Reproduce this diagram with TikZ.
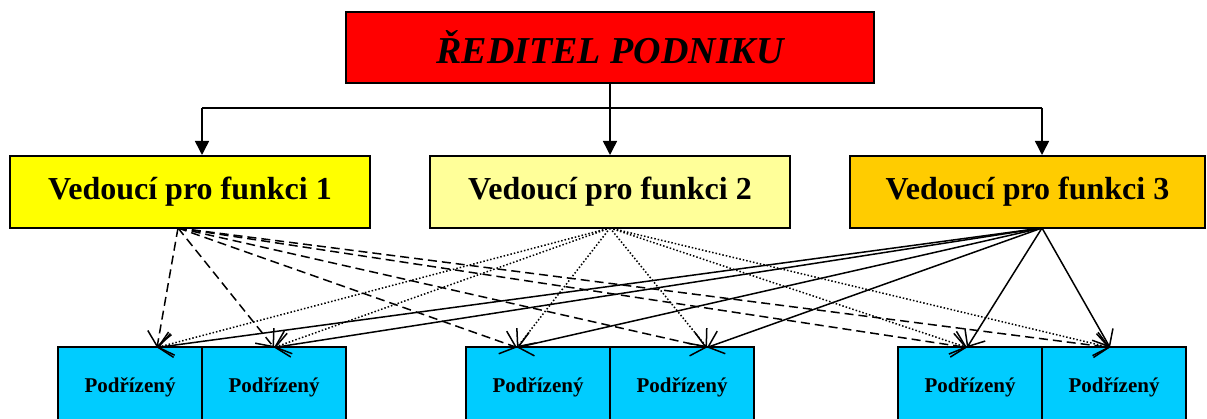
\documentclass[tikz,border=0pt]{standalone}
\usepackage{fontspec}
\setmainfont{Liberation Serif}
\usetikzlibrary{arrows.meta}
\definecolor{reditelred}{HTML}{FF0000}
\definecolor{ved1col}{HTML}{FFFF00}
\definecolor{ved2col}{HTML}{FFFF99}
\definecolor{ved3col}{HTML}{FFCC00}
\definecolor{podcol}{HTML}{00CCFF}
\newcommand{\podbox}[2]{\node[podrizeny] at (#1) (#2) {Podřízený}}

\begin{document}
\begin{tikzpicture}[x=1pt,y=-1pt,
	box/.style={draw,line width=2pt,inner sep=0pt,font=\bfseries},
	vedouci/.style={box,minimum height=72pt,font=\fontsize{32}{36}\selectfont\bfseries},
	podrizeny/.style={box,fill=podcol,minimum width=144pt,minimum height=80pt,font=\fontsize{21}{24}\selectfont\bfseries},
	f1/.style={->,dash pattern=on 9pt off 5pt},
	f2/.style={->,dash pattern=on 1.5pt off 2pt},
	f3/.style={->},
	>={Straight Barb[length=14pt,width=24pt]},
	line width=1.5pt]
				\useasboundingbox (0,0) rectangle (1207,419);
				\clip (0,0) rectangle (1207,419);

				\node[box,fill=reditelred,minimum width=528pt,minimum height=71pt,font=\fontsize{38}{40}\selectfont\bfseries\itshape] at (610,47.5) (reditel) {ŘEDITEL PODNIKU};

				\node[vedouci,fill=ved1col,minimum width=360pt] at (190,192) (ved1) {Vedoucí pro funkci 1};
				\node[vedouci,fill=ved2col,minimum width=360pt] at (610,192) (ved2) {Vedoucí pro funkci 2};
				\node[vedouci,fill=ved3col,minimum width=355pt] at (1027.5,192) (ved3) {Vedoucí pro funkci 3};

				\podbox{130,387.5}{pod1};
				\podbox{274,387.5}{pod2};
				\podbox{538,387.5}{pod3};
				\podbox{682,387.5}{pod4};
				\podbox{970,387.5}{pod5};
				\podbox{1114,387.5}{pod6};

				% rozvod od reditele
				\coordinate (r1) at (202,108);
				\coordinate (r3) at (1042,108);
				\draw (reditel.south) -- (reditel.south |- r1);
				\draw (r1) -- (r3);
				\draw[-{Triangle[length=14pt,width=14pt]}] (r1) -- (r1 |- ved1.north);
				\draw[-{Triangle[length=14pt,width=14pt]}] (reditel.south |- r1) -- (ved2.north);
				\draw[-{Triangle[length=14pt,width=14pt]}] (r3) -- (r3 |- ved3.north);

				% vychody a cile
				\coordinate (s1) at (178,228);
				\coordinate (s2) at (610,228);
				\coordinate (s3) at (1042,228);
				\coordinate (t1) at (157,347.5);
				\coordinate (t2) at (274,347.5);
				\coordinate (t3) at (517,347.5);
				\coordinate (t4) at (707,347.5);
				\coordinate (t5) at (967,347.5);
				\coordinate (t6) at (1110,347.5);

				\draw[f1] (s1) -- (t1);
				\draw[f1] (s1) -- (t2);
				\draw[f1] (s1) -- (t3);
				\draw[f1] (s1) -- (t4);
				\draw[f1] (s1) -- (t5);
				\draw[f1] (s1) -- (t6);

				\draw[f2] (s2) -- (t1);
				\draw[f2] (s2) -- (t2);
				\draw[f2] (s2) -- (t3);
				\draw[f2] (s2) -- (t4);
				\draw[f2] (s2) -- (t5);
				\draw[f2] (s2) -- (t6);

				\draw[f3] (s3) -- (t1);
				\draw[f3] (s3) -- (t2);
				\draw[f3] (s3) -- (t3);
				\draw[f3] (s3) -- (t4);
				\draw[f3] (s3) -- (t5);
				\draw[f3] (s3) -- (t6);
\end{tikzpicture}
\end{document}
